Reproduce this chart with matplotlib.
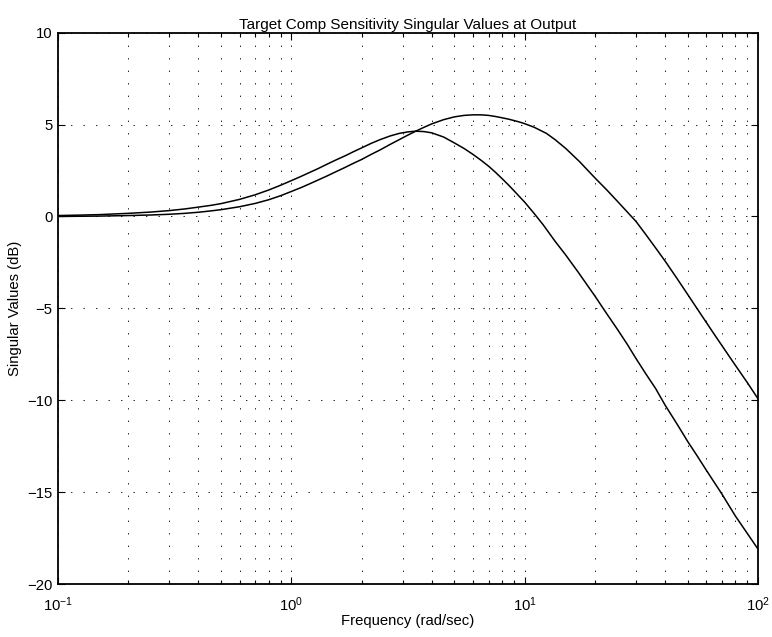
import matplotlib
matplotlib.use("Agg")
import matplotlib.pyplot as plt
from matplotlib.ticker import LogLocator, LogFormatterMathtext, NullFormatter

plt.rcParams['font.family'] = ['Liberation Sans', 'DejaVu Sans']
plt.rcParams['mathtext.default'] = 'regular'
plt.rcParams['lines.scale_dashes'] = False

# singular value 1 (peaks earlier, rolls off faster)
freq_a = [0.1, 0.12, 0.15, 0.2, 0.25, 0.3, 0.35, 0.4, 0.45, 0.5, 0.6, 0.7, 0.8, 0.9,
          1.0, 1.1, 1.2, 1.3, 1.42, 1.55, 1.7, 1.85, 2.0, 2.2, 2.4, 2.65, 2.9, 3.15, 3.4,
          3.7, 4.0, 4.5, 5.0, 5.5, 6.0, 6.5, 7.0, 7.5, 8.0, 8.5, 9.0, 9.5, 10, 11, 12,
          13.5, 15, 17, 20, 22.5, 25, 27.5, 30, 33, 36.4, 40, 45, 50, 55, 60, 70, 80, 90, 100]
sv_a = [0.05, 0.07, 0.1, 0.17, 0.24, 0.32, 0.41, 0.51, 0.6, 0.7, 0.93, 1.18, 1.44, 1.7,
        1.95, 2.18, 2.4, 2.6, 2.84, 3.07, 3.3, 3.53, 3.73, 3.98, 4.18, 4.38, 4.52, 4.6, 4.64,
        4.62, 4.55, 4.32, 4.0, 3.7, 3.38, 3.06, 2.74, 2.4, 2.06, 1.73, 1.4, 1.08, 0.78, 0.15, -0.45,
        -1.35, -2.1, -3.05, -4.33, -5.3, -6.15, -6.95, -7.73, -8.55, -9.36, -10.27, -11.3, -12.25,
        -13.05, -13.8, -15.1, -16.3, -17.25, -18.1]

# singular value 2
freq_b = [0.1, 0.12, 0.15, 0.2, 0.25, 0.3, 0.35, 0.4, 0.45, 0.5, 0.6, 0.7, 0.8, 0.9,
          1.0, 1.1, 1.2, 1.3, 1.42, 1.55, 1.7, 1.85, 2.0, 2.2, 2.4, 2.65, 2.9, 3.15, 3.4,
          3.7, 4.0, 4.5, 5.0, 5.5, 6.0, 6.5, 7.0, 7.5, 8.0, 8.5, 9.0, 9.5, 10, 11, 12.4,
          13.5, 15, 17.2, 20, 22.5, 25, 27.5, 30, 33, 36.4, 40, 45, 50, 55, 60, 65, 70, 75,
          80, 90, 100]
sv_b = [0.0, 0.01, 0.02, 0.05, 0.08, 0.12, 0.17, 0.23, 0.3, 0.37, 0.53, 0.71, 0.91, 1.13,
        1.36, 1.57, 1.78, 1.98, 2.2, 2.43, 2.67, 2.9, 3.1, 3.38, 3.62, 3.92, 4.18, 4.42, 4.63,
        4.85, 5.04, 5.27, 5.42, 5.5, 5.53, 5.53, 5.5, 5.44, 5.37, 5.3, 5.22, 5.14, 5.05, 4.85, 4.52,
        4.18, 3.7, 2.98, 2.1, 1.44, 0.82, 0.25, -0.27, -0.97, -1.71, -2.43, -3.38, -4.25, -5.04,
        -5.76, -6.42, -7.02, -7.58, -8.1, -9.04, -9.92]

y_ticks = [-20, -15, -10, -5, 0, 5, 10]

fig = plt.figure(figsize=(7.72, 6.37), dpi=100)
ax = fig.add_axes([58 / 772, 1 - 584 / 637, 700 / 772, 551.3 / 637])

ax.semilogx(freq_a, sv_a, color='k', lw=1.1)
ax.semilogx(freq_b, sv_b, color='k', lw=1.1)

ax.set_xlim(0.1, 100)
ax.set_ylim(-20, 10)
ax.set_yticks(y_ticks)
ax.xaxis.set_major_locator(LogLocator(base=10))
ax.xaxis.set_major_formatter(LogFormatterMathtext())
ax.xaxis.set_minor_locator(LogLocator(base=10, subs=range(2, 10)))
ax.xaxis.set_minor_formatter(NullFormatter())

dots = (0, (1, 8))
ax.grid(True, which='major', axis='both', ls=dots, lw=0.7, color='#222222')
ax.grid(True, which='minor', axis='x', ls=dots, lw=0.7, color='#222222')

ax.tick_params(which='both', direction='in', top=True, right=True, labelsize=10.7, width=0.8)
ax.tick_params(which='major', length=5)
ax.tick_params(which='minor', length=3)
ax.tick_params(axis='x', which='major', pad=8)
ax.tick_params(axis='y', pad=4)
for sp in ax.spines.values():
    sp.set_linewidth(1.3)

ax.set_title('Target Comp Sensitivity Singular Values at Output', fontsize=11, pad=3)
ax.set_xlabel('Frequency (rad/sec)', fontsize=10.7)
ax.set_ylabel('Singular Values (dB)', fontsize=10.7)
ax.xaxis.set_label_coords(0.5, -0.055)
ax.yaxis.set_label_coords(-0.052, 0.5)

fig.savefig('out.png', dpi=100)
